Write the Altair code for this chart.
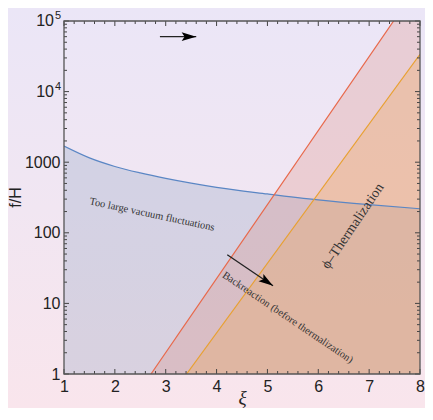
import altair as alt
import pandas as pd

W, H = 356, 353

# ---- data ----
xi_curve = [1, 1.5, 2, 2.5, 3, 3.5, 4, 5, 6, 7, 8]
fH_curve = [1690, 1150, 870, 705, 590, 505, 440, 355, 292, 250, 219]

xi_red = [2.71, 8.0]
fH_red = [1.0, 350000.0]

xi_orange = [3.41, 8.0]
fH_orange = [1.0, 33800.0]

arrow1_xi = [2.886, 3.60]
arrow1_fH = [60000, 60000]
arrow2_xi = [4.21, 5.11]
arrow2_fH = [49.0, 17.8]

labels_text = ["Too large vacuum fluctuations", "Backreaction (before thermalization)", "ϕ–Thermalization"]
labels_xi = [2.73, 5.40, 6.68]
labels_fH = [181, 6.3, 124]

xi_major = [1, 2, 3, 4, 5, 6, 7, 8]
xi_minor = [round(a + b / 5, 2) for a in range(1, 8) for b in range(1, 5)]
fH_major = [1, 10, 100, 1000, 10000, 100000]
fH_minor = [m * 10 ** k for k in range(0, 5) for m in range(2, 10)]
pow_values = [10000, 100000]
pow_exps = ["4", "5"]

# ---- scales and axes ----
xs = alt.Scale(domain=[1, 8], nice=False, zero=False)
ys = alt.Scale(type="log", domain=[1, 100000], nice=False)

x_axis = alt.Axis(values=xi_major, title="ξ", labelFont="Liberation Sans", labelFontSize=16,
                  labelColor="#222222", ticks=False, domain=False, grid=False, labelPadding=4,
                  titleFont="Liberation Serif", titleFontStyle="italic", titleFontSize=19,
                  titleFontWeight="normal", titleColor="#222222", titleX=W / 2, titleY=23,
                  titleBaseline="middle", titleAlign="center", zindex=1, labelFlush=False)
y_axis = alt.Axis(values=fH_major,
                  labelExpr="datum.value >= 10000 ? '' : format(datum.value, 'd')",
                  title="f/H", labelFont="Liberation Sans", labelFontSize=16, labelColor="#222222",
                  ticks=False, domain=False, grid=False, labelPadding=4,
                  titleFont="Liberation Sans", titleFontSize=16, titleFontWeight="normal",
                  titleColor="#222222", titleX=-49, titleY=176, titleAngle=270,
                  titleBaseline="middle", titleAlign="center", zindex=1, labelFlush=False)


def X(field="xi"):
    return alt.X(f"{field}:Q", scale=xs, axis=x_axis)


def Y(field="fH"):
    return alt.Y(f"{field}:Q", scale=ys, axis=y_axis)


df_curve = pd.DataFrame({"xi": xi_curve, "fH": fH_curve, "base": [1] * len(xi_curve)})
df_red = pd.DataFrame({"xi": xi_red, "fH": fH_red, "base": [1, 1]})
df_orange = pd.DataFrame({"xi": xi_orange, "fH": fH_orange, "base": [1, 1]})
df_a1 = pd.DataFrame({"xi": arrow1_xi, "fH": arrow1_fH})
df_a2 = pd.DataFrame({"xi": arrow2_xi, "fH": arrow2_fH})
df_heads = pd.DataFrame({"xi": [arrow1_xi[1], arrow2_xi[1]], "fH": [arrow1_fH[1], arrow2_fH[1]],
                         "ang": [0, 34]})
df_lab = pd.DataFrame({"xi": labels_xi, "fH": labels_fH, "t": labels_text})
df_pow = pd.DataFrame({"fH": pow_values, "e": pow_exps, "b": ["10", "10"]})
df_one = pd.DataFrame({"a": [0]})

TOP, BOTTOM = 13, 34

bg = alt.Chart(df_one).mark_rect(
    clip=False,
    color=alt.Gradient(gradient="linear", x1=0, x2=0, y1=0, y2=1,
                       stops=[alt.GradientStop(color="#ebe6f7", offset=0),
                              alt.GradientStop(color="#f1e6f2", offset=0.5),
                              alt.GradientStop(color="#f9e5ec", offset=1)])
).encode(x=alt.value(-56), x2=alt.value(W + 5), y=alt.value(-TOP), y2=alt.value(H + BOTTOM))

blue_area = alt.Chart(df_curve).mark_area(clip=True, color="#6f8bb0", opacity=0.22,
                                          interpolate="monotone").encode(x=X(), y=Y(), y2="base:Q")
red_area = alt.Chart(df_red).mark_area(clip=True, color="#dc8273", opacity=0.25).encode(
    x=X(), y=Y(), y2="base:Q")
orange_area = alt.Chart(df_orange).mark_area(clip=True, color="#eea554", opacity=0.3).encode(
    x=X(), y=Y(), y2="base:Q")

blue_line = alt.Chart(df_curve).mark_line(clip=True, color="#5a86c4", strokeWidth=1.2,
                                          interpolate="monotone").encode(x=X(), y=Y())
red_line = alt.Chart(df_red).mark_line(clip=True, color="#e8684a", strokeWidth=1.2).encode(x=X(), y=Y())
orange_line = alt.Chart(df_orange).mark_line(clip=True, color="#e8a030", strokeWidth=1.2).encode(x=X(), y=Y())

arr1 = alt.Chart(df_a1).mark_line(color="#222222", strokeWidth=1.4).encode(x=X(), y=Y())
arr2 = alt.Chart(df_a2).mark_line(color="#222222", strokeWidth=1.3).encode(x=X(), y=Y())
heads = alt.Chart(df_heads).mark_point(
    shape="M0,0L-2,-0.6L-1.6,0L-2,0.6Z", filled=True, color="#000000", opacity=1, size=213
).encode(x=X(), y=Y(), angle=alt.Angle("ang:Q", scale=None))

font_kw = dict(font="Liberation Serif", color="#333333", align="center", baseline="middle")
t1 = alt.Chart(df_lab.iloc[[0]]).mark_text(angle=12, fontSize=10.5, **font_kw).encode(x=X(), y=Y(), text="t:N")
t2 = alt.Chart(df_lab.iloc[[1]]).mark_text(angle=34, fontSize=10.5, **font_kw).encode(x=X(), y=Y(), text="t:N")
t3 = alt.Chart(df_lab.iloc[[2]]).mark_text(angle=304, fontSize=14, **font_kw).encode(x=X(), y=Y(), text="t:N")

# power-of-ten tick labels with real superscripts
pow_base = alt.Chart(df_pow).mark_text(
    clip=False, font="Liberation Sans", fontSize=16, color="#222222", align="right", baseline="middle"
).encode(y=Y(), x=alt.value(-10), text="b:N")
pow_exp = alt.Chart(df_pow).mark_text(
    clip=False, font="Liberation Sans", fontSize=11, color="#222222", align="right", baseline="middle", dy=-5
).encode(y=Y(), x=alt.value(-3), text="e:N")

tick_col = "#444444"
df_xmaj = pd.DataFrame({"xi": xi_major})
df_xmin = pd.DataFrame({"xi": xi_minor})
df_ymaj = pd.DataFrame({"fH": fH_major})
df_ymin = pd.DataFrame({"fH": fH_minor})


def xticks(df, L):
    b = alt.Chart(df).mark_rule(color=tick_col, strokeWidth=1).encode(x=X(), y=alt.value(H), y2=alt.value(H - L))
    t = alt.Chart(df).mark_rule(color=tick_col, strokeWidth=1).encode(x=X(), y=alt.value(0), y2=alt.value(L))
    return [b, t]


def yticks(df, L):
    l = alt.Chart(df).mark_rule(color=tick_col, strokeWidth=1).encode(y=Y(), x=alt.value(0), x2=alt.value(L))
    r = alt.Chart(df).mark_rule(color=tick_col, strokeWidth=1).encode(y=Y(), x=alt.value(W), x2=alt.value(W - L))
    return [l, r]


frame = alt.Chart(df_one).mark_rect(fillOpacity=0, stroke="#555555", strokeWidth=1.3).encode(
    x=alt.value(0), x2=alt.value(W), y=alt.value(0), y2=alt.value(H))

layers = [bg, blue_area, red_area, orange_area, blue_line, red_line, orange_line,
          t1, t2, t3, arr1, arr2, heads, pow_base, pow_exp]
layers += xticks(df_xmaj, 5) + xticks(df_xmin, 3) + yticks(df_ymaj, 5) + yticks(df_ymin, 3)
layers += [frame]

chart = alt.layer(*layers).properties(
    width=W, height=H,
    autosize=alt.AutoSizeParams(type="none"),
    padding={"left": 56, "top": TOP, "right": 5, "bottom": BOTTOM},
    background="#f1e6f2",
).configure_view(stroke=None)

chart.save("out.html", embed_options={"renderer": "svg", "actions": False})
